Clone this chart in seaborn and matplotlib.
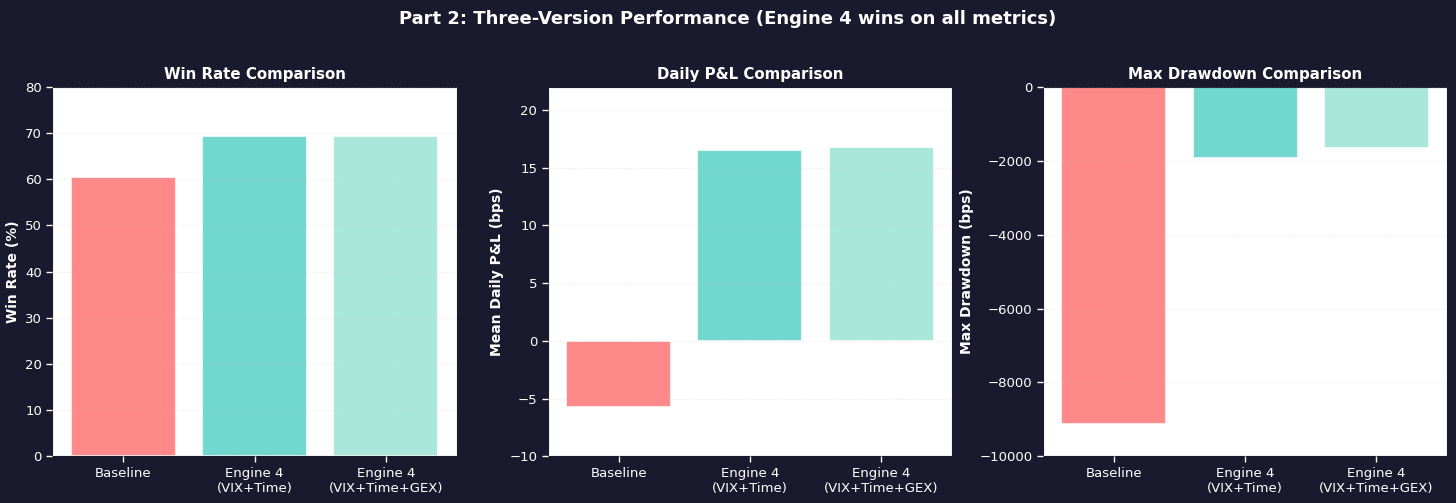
import pandas as pd
import matplotlib.pyplot as plt
import seaborn as sns

# Values
versions = ['Baseline', 'Engine 4\n(VIX+Time)', 'Engine 4\n(VIX+Time+GEX)']
win_rate = [60.4, 69.3, 69.3]
daily_pnl = [-5.7, 16.5, 16.8]
max_drawdown = [-9130, -1925, -1650]
bar_colors = ['#FF6B6B', '#4ECDC4', '#95E1D3']

bg = '#1a1a2e'
sns.set_style('white', rc={'axes.axisbelow': False})
plt.rcParams['font.family'] = ['DejaVu Sans']

fig, axes = plt.subplots(1, 3, figsize=(14.56, 5.03), dpi=100)
fig.patch.set_facecolor(bg)

panels = [
    (win_rate, 'Win Rate Comparison', 'Win Rate (%)', (0, 80)),
    (daily_pnl, 'Daily P&L Comparison', 'Mean Daily P&L (bps)', (-10, 22)),
    (max_drawdown, 'Max Drawdown Comparison', 'Max Drawdown (bps)', (-10000, 0)),
]

for ax, (vals, title, ylabel, ylim) in zip(axes, panels):
    df = pd.DataFrame({'Version': versions, 'Value': vals})
    sns.barplot(data=df, x='Version', y='Value', hue='Version',
                palette=bar_colors, saturation=1, alpha=0.8, edgecolor='white',
                linewidth=1.5, width=0.8, legend=False, ax=ax)
    ax.set_facecolor('white')
    ax.set_title(title, color='white', fontsize=10.8, fontweight='bold')
    ax.set_ylabel(ylabel, color='white', fontsize=10, fontweight='bold')
    ax.set_xlabel('')
    ax.set_ylim(*ylim)
    ax.set_xlim(-0.54, 2.54)
    ax.tick_params(colors='white', labelsize=9.5, length=4, width=1,
                   bottom=True, left=True)
    ax.grid(axis='y', linestyle=':', alpha=0.3, color='#bbbbbb')
    for s in ax.spines.values():
        s.set_color(bg)

fig.suptitle('Part 2: Three-Version Performance (Engine 4 wins on all metrics)',
             color='white', fontsize=13, fontweight='bold', y=0.98)
plt.subplots_adjust(left=0.036, right=0.994, top=0.827, bottom=0.093, wspace=0.225)
plt.savefig('out.png', facecolor=bg)
